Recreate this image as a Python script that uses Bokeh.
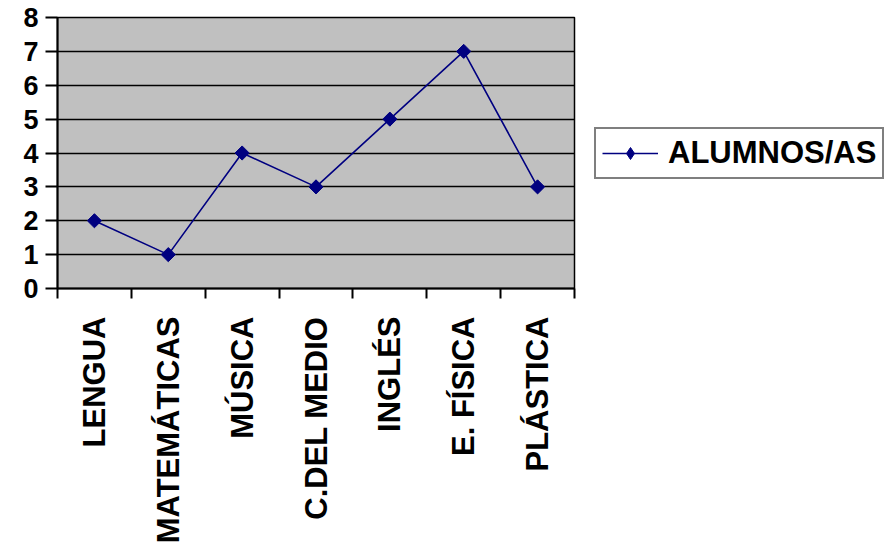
import math
from bokeh.plotting import figure
from bokeh.models import Range1d, FixedTicker, Legend, LegendItem
from bokeh.embed import file_html
from bokeh.resources import INLINE

categories = ["LENGUA", "MATEMÁTICAS", "MÚSICA", "C.DEL MEDIO", "INGLÉS", "E. FÍSICA", "PLÁSTICA"]
alumnos = [2, 1, 4, 3, 5, 7, 3]
y_ticks = [0, 1, 2, 3, 4, 5, 6, 7, 8]
series_name = "ALUMNOS/AS"

xs = [i + 0.5 for i in range(len(categories))]

FONT = "Liberation Sans"
NAVY = "#000080"

p = figure(frame_width=517, frame_height=271, output_backend="svg", toolbar_location=None,
           x_range=Range1d(0, len(categories)), y_range=Range1d(0, 8),
           min_border_left=57, min_border_top=17, min_border_right=0, min_border_bottom=0,
           background_fill_color="#C0C0C0", border_fill_color="white")
p.outline_line_color = "black"
p.outline_line_width = 1.5

ln = p.line(xs, alumnos, line_color=NAVY, line_width=1.6)
# diamond marker (used for the legend swatch), covered by the rotated-square marker
dm = p.scatter(xs, alumnos, marker="diamond", size=12, fill_color=NAVY, line_color=NAVY)
sc = p.scatter(xs, alumnos, marker="square", angle=math.pi / 4, size=10,
               fill_color=NAVY, line_color=NAVY)

# x axis
p.xaxis.ticker = FixedTicker(ticks=xs, minor_ticks=list(range(len(categories) + 1)))
p.xaxis.major_label_overrides = {x: c for x, c in zip(xs, categories)}
p.xaxis.major_label_orientation = math.pi / 2
p.xaxis.major_tick_line_color = None
p.xaxis.major_tick_out = 0
p.xaxis.major_tick_in = 0
p.xaxis.minor_tick_out = 10
p.xaxis.minor_tick_in = 0
p.xaxis.minor_tick_line_color = "black"
p.xaxis.minor_tick_line_width = 2
p.xaxis.axis_line_color = "black"
p.xaxis.axis_line_width = 2
p.xaxis.major_label_standoff = 18
p.xaxis.major_label_text_font = FONT
p.xaxis.major_label_text_font_style = "bold"
p.xaxis.major_label_text_font_size = "31px"
p.xaxis.major_label_text_color = "black"

# y axis
p.yaxis.ticker = FixedTicker(ticks=y_ticks)
p.yaxis.major_tick_out = 12
p.yaxis.major_tick_in = 0
p.yaxis.major_tick_line_color = "black"
p.yaxis.major_tick_line_width = 2
p.yaxis.minor_tick_line_color = None
p.yaxis.axis_line_color = "black"
p.yaxis.axis_line_width = 2
p.yaxis.major_label_standoff = 7
p.yaxis.major_label_text_font = FONT
p.yaxis.major_label_text_font_style = "bold"
p.yaxis.major_label_text_font_size = "27px"
p.yaxis.major_label_text_color = "black"

p.xgrid.grid_line_color = None
p.ygrid.ticker = FixedTicker(ticks=y_ticks)
p.ygrid.grid_line_color = "black"
p.ygrid.grid_line_width = 1.5

legend = Legend(items=[LegendItem(label=series_name, renderers=[ln, dm])],
                location="center_left", margin=20, padding=6, spacing=0,
                glyph_width=56, glyph_height=30, label_standoff=10,
                label_text_font=FONT, label_text_font_style="bold",
                label_text_font_size="31px", label_text_color="black",
                border_line_color="black", border_line_width=2,
                background_fill_color="white", background_fill_alpha=1.0)
p.add_layout(legend, "right")

open("out.html", "w").write(file_html(p, INLINE))
